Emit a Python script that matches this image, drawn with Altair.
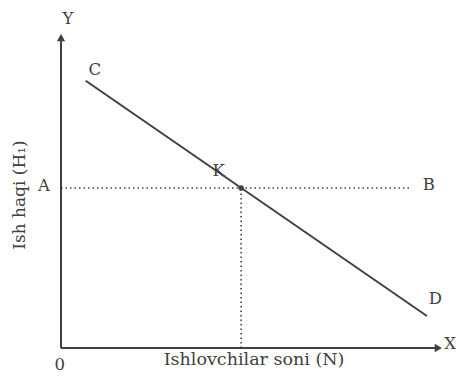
import altair as alt
import pandas as pd

# Demand line C -> D
line_x = [6.5, 96.3]
line_y = [83.5, 10.0]

# Equilibrium point K
k_x = 47.4
k_y = 50.0

# Point labels
label_text = ["C", "K", "D", "A", "B", "0", "Y", "X"]
label_x = [8.9, 41.5, 98.5, -4.5, 96.8, -0.3, 1.8, 102.4]
label_y = [87.0, 55.3, 15.3, 50.6, 51.0, -5.3, 102.8, 1.3]

x_title = "Ishlovchilar soni (N)"
y_title = "Ish haqi (H₁)"

ink = "#404040"
font = "DejaVu Serif"

xs = alt.Scale(domain=[0, 100], nice=False, zero=False)
ys = alt.Scale(domain=[0, 100], nice=False, zero=False)

def X(f="x"):
    return alt.X(f"{f}:Q", scale=xs, axis=None)

def Y(f="y"):
    return alt.Y(f"{f}:Q", scale=ys, axis=None)

# axes as rules
axes_df = pd.DataFrame({"x": [0, 0], "y": [0, 0], "x2": [0, 99.0], "y2": [97.5, 0]})
axes = alt.Chart(axes_df).mark_rule(color=ink, strokeWidth=2).encode(
    x=X(), y=Y(), x2="x2:Q", y2="y2:Q")

arrow_up = alt.Chart(pd.DataFrame({"x": [0], "y": [97.0]})).mark_point(
    shape="triangle-up", filled=True, size=70, color=ink, opacity=1).encode(x=X(), y=Y())
arrow_right = alt.Chart(pd.DataFrame({"x": [99.3], "y": [0]})).mark_point(
    shape="triangle-right", filled=True, size=70, color=ink, opacity=1).encode(x=X(), y=Y())

demand = alt.Chart(pd.DataFrame({"x": line_x, "y": line_y})).mark_line(
    color=ink, strokeWidth=2).encode(x=X(), y=Y())

dots_df = pd.DataFrame({"x": [0, k_x], "y": [k_y, 0], "x2": [91.8, k_x], "y2": [k_y, k_y]})
dotted = alt.Chart(dots_df).mark_rule(color=ink, strokeWidth=1.6, strokeDash=[1.5, 3]).encode(
    x=X(), y=Y(), x2="x2:Q", y2="y2:Q")

kpt = alt.Chart(pd.DataFrame({"x": [k_x], "y": [k_y]})).mark_point(
    filled=True, size=30, color=ink, opacity=1).encode(x=X(), y=Y())

labels = alt.Chart(pd.DataFrame({"x": label_x, "y": label_y, "t": label_text})).mark_text(
    font=font, fontSize=16.5, color=ink, align="center", baseline="middle").encode(
    x=X(), y=Y(), text="t:N")

xt = alt.Chart(pd.DataFrame({"x": [50.8], "y": [-3.9], "t": [x_title]})).mark_text(
    font=font, fontSize=17.5, color=ink, align="center", baseline="middle").encode(
    x=X(), y=Y(), text="t:N")

yt = alt.Chart(pd.DataFrame({"x": [-10.8], "y": [47.8], "t": [y_title]})).mark_text(
    font=font, fontSize=17, color=ink, align="center", baseline="middle", angle=270).encode(
    x=X(), y=Y(), text="t:N")

chart = alt.layer(axes, arrow_up, arrow_right, dotted, demand, kpt, labels, xt, yt).properties(
    width=380, height=320,
    autosize=alt.AutoSizeParams(type="none"),
    padding={"left": 53, "top": 20, "right": 15, "bottom": 29},
).configure_view(stroke=None)

chart.save("out.html", embed_options={"renderer": "svg", "actions": False})
